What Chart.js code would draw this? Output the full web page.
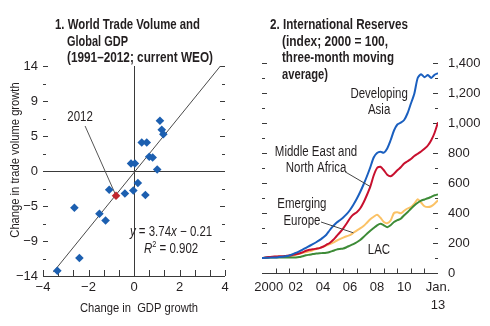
<!DOCTYPE html>
<html>
<head>
<meta charset="utf-8">
<script src="https://cdn.jsdelivr.net/npm/chart.js@4.4.1/dist/chart.umd.min.js"></script>
<style>
  html, body { margin: 0; padding: 0; background: #fff; }
  #wrap { position: relative; width: 490px; height: 326px; overflow: hidden;
          font-family: 'Liberation Sans', Arial, sans-serif; color: #231f20; }
  canvas { position: absolute; top: 0; }
  #c1 { left: 0; }
  #c2 { left: 245px; }
  .title { position: absolute; top: 16px; font-weight: bold; font-size: 15px; line-height: 16.7px;
           white-space: nowrap; z-index: 2; }
  .ln { width: max-content; transform-origin: left center; }
  .ind { margin-left: 12px; }
  #t1 { left: 55px; }
  #t2 { left: 270px; }
</style>
</head>
<body>
<div id="wrap">
  <div class="title" id="t1">
    <div class="ln" data-w="145">1. World Trade Volume and</div>
    <div class="ln ind" data-w="61">Global GDP</div>
    <div class="ln ind" data-w="146">(1991–2012; current WEO)</div>
  </div>
  <div class="title" id="t2">
    <div class="ln" data-w="138">2. International Reserves</div>
    <div class="ln ind" data-w="106">(index; 2000 = 100,</div>
    <div class="ln ind" data-w="112">three-month moving</div>
    <div class="ln ind" data-w="46">average)</div>
  </div>
  <canvas id="c1" width="245" height="326"></canvas>
  <canvas id="c2" width="245" height="326"></canvas>
</div>
<script>
// ---------- Panel 1: change in world trade volume growth vs change in GDP growth ----------
const GDP_CHANGE   = [1.14, 1.22, 1.29, 0.34, 0.56, 0.67, 0.82, -0.13, 0.04, 1.02,
                      0.17, -1.09, -0.40, -0.03, 0.50, -2.62, -1.52, -1.25, -2.40, -3.37];
const TRADE_CHANGE = [6.7, 5.5, 4.9, 3.8, 3.8, 1.9, 1.8, 1.0, 1.0, 0.2,
                      -1.6, -2.5, -3.0, -2.6, -3.2, -4.9, -5.7, -6.6, -11.6, -13.3];
const LATEST_GDP_CHANGE = [-0.79];   // 2012
const LATEST_TRADE_CHANGE = [-3.3];  // 2012
const FIT_SLOPE = 3.74;
const FIT_INTERCEPT = -0.21;
const FIT_R2 = '0.902';
const FIT_X_RANGE = [-3.55, 3.8];

const X1_TICKS  = [-4, -10/3, -8/3, -2, -4/3, -2/3, 0, 2/3, 4/3, 2, 8/3, 10/3, 4];
const X1_LABELS = ['−4', '', '', '−2', '', '', '0', '', '', '2', '', '', '4'];
const Y1_TICKS  = [-14, -35/3, -28/3, -7, -14/3, -7/3, 0, 7/3, 14/3, 7, 28/3, 35/3, 14];
const Y1_LABELS = ['−14', '', '−9', '', '−5', '', '0', '', '5', '', '9', '', '14'];

// ---------- Panel 2: international reserves, index 2000 = 100 ----------
const QUARTERS = [
  '2000Q1','2000Q2','2000Q3','2000Q4','2001Q1','2001Q2','2001Q3','2001Q4',
  '2002Q1','2002Q2','2002Q3','2002Q4','2003Q1','2003Q2','2003Q3','2003Q4',
  '2004Q1','2004Q2','2004Q3','2004Q4','2005Q1','2005Q2','2005Q3','2005Q4',
  '2006Q1','2006Q2','2006Q3','2006Q4','2007Q1','2007Q2','2007Q3','2007Q4',
  '2008Q1','2008Q2','2008Q3','2008Q4','2009Q1','2009Q2','2009Q3','2009Q4',
  '2010Q1','2010Q2','2010Q3','2010Q4','2011Q1','2011Q2','2011Q3','2011Q4',
  '2012Q1','2012Q2','2012Q3','2012Q4','2013Q1'
];
const DEVELOPING_ASIA = [
  100, 101, 102, 103, 104, 106, 108, 111,
  116, 125, 134, 144, 156, 168, 180, 192,
  205, 219, 236, 255, 285, 312, 335, 352,
  370, 392, 420, 455, 495, 540, 590, 645,
  705, 770, 800, 808, 802, 830, 885, 950,
  990, 1002, 1020, 1065, 1130, 1195, 1300, 1325,
  1305, 1320, 1300, 1322, 1332
];
const MIDDLE_EAST_NORTH_AFRICA = [
  100, 103, 107, 109, 110, 111, 112, 114,
  116, 120, 125, 130, 138, 148, 155, 158,
  162, 166, 175, 188, 200, 220, 245, 270,
  298, 330, 365, 390, 405, 430, 470, 520,
  576, 650, 700, 708, 685, 655, 645, 662,
  685, 705, 730, 745, 760, 780, 795, 810,
  828, 850, 885, 935, 1005
];
const EMERGING_EUROPE = [
  100, 102, 105, 107, 108, 108, 109, 110,
  112, 117, 122, 128, 134, 140, 145, 152,
  160, 167, 174, 184, 193, 203, 215, 226,
  236, 245, 252, 268, 283, 297, 313, 335,
  358, 375, 388, 368, 340, 332, 350, 400,
  405, 398, 415, 430, 440, 462, 492, 470,
  445, 440, 445, 462, 485
];
const LAC = [
  100, 101, 103, 104, 104, 104, 104, 104,
  104, 103, 103, 106, 112, 118, 122, 126,
  130, 132, 133, 135, 140, 148, 156, 160,
  163, 172, 183, 193, 205, 220, 240, 262,
  282, 300, 318, 328, 318, 305, 318, 340,
  352, 362, 385, 405, 428, 450, 468, 482,
  490, 498, 508, 518, 524
];
const YEAR_TICKS  = [2001, 2002, 2003, 2004, 2005, 2006, 2007, 2008, 2009, 2010, 2011, 2012];
const YEAR_LABEL_AT = [2000.5, 2002.5, 2004.5, 2006.5, 2008.5, 2010.5, 2013];
const YEAR_LABELS   = ['2000', '02', '04', '06', '08', '10', ['Jan.', '13']];
const Y2_TICKS  = [0, 100, 200, 300, 400, 500, 600, 700, 800, 900, 1000, 1100, 1200, 1300, 1400];
const Y2_LABELS = ['0', '', '200', '', '400', '', '600', '', '800', '', '1,000', '', '1,200', '', '1,400'];

// ---------- shared styling ----------
const FONT = "'Liberation Sans', Arial, sans-serif";
const INK = '#231f20';
const AXIS = '#3a3a3a';
const NARROW = 0.82;   // horizontal squeeze for condensed-looking annotation text
Chart.defaults.font.family = FONT;
Chart.defaults.font.size = 13;
Chart.defaults.color = INK;

// squeeze each title line to its set width, giving a condensed face
document.querySelectorAll('.ln').forEach(el => {
  const w = el.getBoundingClientRect().width;
  el.style.transform = `scaleX(${Number(el.dataset.w) / w})`;
});

const quarterToYear = q => Number(q.slice(0, 4)) + (Number(q.slice(5)) - 1) / 4;
const crisp = v => Math.round(v) + 0.5;

function seg(ctx, x1, y1, x2, y2) {
  ctx.beginPath();
  ctx.moveTo(x1, y1);
  ctx.lineTo(x2, y2);
  ctx.stroke();
}

// a line of text made of styled runs, centred on (cx, cy), optionally rotated
function drawRuns(ctx, runs, cx, cy, size, squeeze, rotation) {
  const fontOf = r => `${r.italic ? 'italic ' : ''}${r.sup ? Math.round(size * 0.65) : size}px ${FONT}`;
  let total = 0;
  runs.forEach(r => { ctx.font = fontOf(r); r.w = ctx.measureText(r.t).width; total += r.w; });
  ctx.save();
  ctx.translate(cx, cy);
  if (rotation) ctx.rotate(rotation);
  ctx.scale(squeeze, 1);
  ctx.textAlign = 'left';
  ctx.textBaseline = 'middle';
  let x = -total / 2;
  runs.forEach(r => {
    ctx.font = fontOf(r);
    ctx.fillText(r.t, x, r.sup ? -size * 0.3 : 0);
    x += r.w;
  });
  ctx.restore();
}

function drawLines(ctx, lines, cx, cy, gap, size) {
  lines.forEach((t, i) => drawRuns(ctx, [{ t }], cx, cy + i * gap, size, NARROW));
}

// ---------- panel 1 decorations ----------
const panelOneFrame = {
  id: 'panelOneFrame',
  beforeDatasetsDraw(chart) {
    const { ctx, scales: { x, y } } = chart;
    const L = x.getPixelForValue(-4), R = x.getPixelForValue(4);
    const T = y.getPixelForValue(14), B = y.getPixelForValue(-14);
    const x0 = crisp(x.getPixelForValue(0)), y0 = crisp(y.getPixelForValue(0));
    ctx.save();
    ctx.strokeStyle = AXIS;
    ctx.lineWidth = 1;
    seg(ctx, x0, T, x0, B);
    seg(ctx, L, y0, R, y0);
    seg(ctx, L, crisp(B), R, crisp(B));
    X1_TICKS.forEach(v => {
      const px = crisp(x.getPixelForValue(v));
      seg(ctx, px, B, px, B - 6);
    });
    Y1_TICKS.forEach((v, i) => {
      if (v === -14) return;
      const py = crisp(y.getPixelForValue(v));
      const len = Y1_LABELS[i] ? 5 : 3;
      seg(ctx, L, py, L + len, py);
      seg(ctx, R - len, py, R, py);
    });
    // leader from the "2012" label to the 2012 observation
    ctx.strokeStyle = '#555';
    seg(ctx, x.getPixelForValue(-2.15), y.getPixelForValue(6.0),
        x.getPixelForValue(LATEST_GDP_CHANGE[0]), y.getPixelForValue(LATEST_TRADE_CHANGE[0]));
    ctx.restore();
  },
  afterDatasetsDraw(chart) {
    const { ctx, chartArea, scales: { x, y } } = chart;
    ctx.save();
    ctx.fillStyle = INK;
    drawLines(ctx, ['2012'], x.getPixelForValue(-2.37), y.getPixelForValue(7.2), 0, 14);
    const slope = FIT_SLOPE.toFixed(2);
    const icpt = Math.abs(FIT_INTERCEPT).toFixed(2);
    drawRuns(ctx, [{ t: 'y', italic: true }, { t: ' = ' + slope }, { t: 'x', italic: true },
                   { t: (FIT_INTERCEPT < 0 ? ' − ' : ' + ') + icpt }],
             x.getPixelForValue(1.63), y.getPixelForValue(-8.1), 14, NARROW);
    drawRuns(ctx, [{ t: 'R', italic: true }, { t: '2', sup: true }, { t: ' = ' + FIT_R2 }],
             x.getPixelForValue(1.63), y.getPixelForValue(-10.4), 14, NARROW);
    // axis titles
    drawRuns(ctx, [{ t: 'Change in  GDP growth' }], (chartArea.left + chartArea.right) / 2 + 5,
             chartArea.bottom + 32, 13, 0.86);
    drawRuns(ctx, [{ t: 'Change in trade volume growth' }], 15,
             (chartArea.top + chartArea.bottom) / 2 - 11, 13, 0.86, -Math.PI / 2);
    ctx.restore();
  }
};

const scatterPoints = GDP_CHANGE.map((g, i) => ({ x: g, y: TRADE_CHANGE[i] }));
const latestPoint = LATEST_GDP_CHANGE.map((g, i) => ({ x: g, y: LATEST_TRADE_CHANGE[i] }));
const fitLine = FIT_X_RANGE.map(g => ({ x: g, y: FIT_SLOPE * g + FIT_INTERCEPT }));

new Chart(document.getElementById('c1'), {
  type: 'scatter',
  data: {
    datasets: [
      { label: 'Fitted line', type: 'line', data: fitLine, borderColor: '#4a4a4a', borderWidth: 1,
        pointRadius: 0, order: 3 },
      { label: '1991–2011', data: scatterPoints, pointStyle: 'rectRot', pointRadius: 4.3,
        backgroundColor: '#1c5fb0', borderWidth: 0, order: 2 },
      { label: '2012', data: latestPoint, pointStyle: 'rectRot', pointRadius: 4.3,
        backgroundColor: '#c1272d', borderWidth: 0, order: 1 }
    ]
  },
  options: {
    responsive: false,
    animation: false,
    events: [],
    layout: { padding: { top: 66, right: 20, left: 0, bottom: 0 } },
    plugins: { legend: { display: false }, tooltip: { enabled: false } },
    scales: {
      x: {
        type: 'linear', min: -4, max: 4,
        grid: { display: false, drawTicks: false }, border: { display: false },
        afterBuildTicks: s => { s.ticks = X1_TICKS.map(v => ({ value: v })); },
        ticks: { autoSkip: false, maxRotation: 0, padding: 4, callback: (v, i) => X1_LABELS[i] },
        afterFit: s => { s.height = 50; }
      },
      y: {
        type: 'linear', min: -14, max: 14,
        grid: { display: false, drawTicks: false }, border: { display: false },
        afterBuildTicks: s => { s.ticks = Y1_TICKS.map(v => ({ value: v })); },
        ticks: { autoSkip: false, padding: 5, callback: (v, i) => Y1_LABELS[i] },
        afterFit: s => { s.width = 43; }
      }
    }
  },
  plugins: [panelOneFrame]
});

// ---------- panel 2 decorations ----------
const panelTwoFrame = {
  id: 'panelTwoFrame',
  beforeDatasetsDraw(chart) {
    const { ctx, scales: { x, y } } = chart;
    const L = x.getPixelForValue(2000), R = x.getPixelForValue(2013);
    const B = crisp(y.getPixelForValue(0));
    ctx.save();
    ctx.strokeStyle = AXIS;
    ctx.lineWidth = 1;
    seg(ctx, L, B, R, B);
    YEAR_TICKS.forEach(v => {
      const px = crisp(x.getPixelForValue(v));
      seg(ctx, px, B, px, B - 5);
    });
    Y2_TICKS.forEach((v, i) => {
      if (v === 0) return;
      const py = crisp(y.getPixelForValue(v));
      const len = Y2_LABELS[i] ? 5 : 3;
      seg(ctx, L, py, L + len, py);
      seg(ctx, R - len, py, R, py);
    });
    ctx.restore();
  },
  afterDatasetsDraw(chart) {
    const { ctx, scales: { x, y } } = chart;
    const at = (q, series) => ({ px: x.getPixelForValue(quarterToYear(q)),
                                 py: y.getPixelForValue(series[QUARTERS.indexOf(q)]) });
    ctx.save();
    ctx.strokeStyle = '#444';
    ctx.lineWidth = 1;
    const mena = at('2008Q1', MIDDLE_EAST_NORTH_AFRICA);
    seg(ctx, x.getPixelForValue(2006.13), y.getPixelForValue(675), mena.px, mena.py);
    const eur = at('2006Q4', EMERGING_EUROPE);
    seg(ctx, x.getPixelForValue(2004.36), y.getPixelForValue(340), eur.px, eur.py);
    ctx.fillStyle = INK;
    drawLines(ctx, ['Developing', 'Asia'], x.getPixelForValue(2008.65), y.getPixelForValue(1193), 16, 14);
    drawLines(ctx, ['Middle East and', 'North Africa'], x.getPixelForValue(2003.99), y.getPixelForValue(807), 16, 14);
    drawLines(ctx, ['Emerging', 'Europe'], x.getPixelForValue(2002.95), y.getPixelForValue(460), 17, 14);
    drawLines(ctx, ['LAC'], x.getPixelForValue(2008.64), y.getPixelForValue(153), 0, 14);
    ctx.restore();
  }
};

const years = QUARTERS.map(quarterToYear);
const toPoints = series => series.map((v, i) => ({ x: years[i], y: v }));
const lineStyle = colour => ({ borderColor: colour, backgroundColor: colour, borderWidth: 2,
                               pointRadius: 0, tension: 0.25, fill: false });

new Chart(document.getElementById('c2'), {
  type: 'line',
  data: {
    datasets: [
      { label: 'Developing Asia', data: toPoints(DEVELOPING_ASIA), ...lineStyle('#1a5fbf') },
      { label: 'Middle East and North Africa', data: toPoints(MIDDLE_EAST_NORTH_AFRICA), ...lineStyle('#c8102e') },
      { label: 'LAC', data: toPoints(LAC), ...lineStyle('#3d8b37') },
      { label: 'Emerging Europe', data: toPoints(EMERGING_EUROPE), ...lineStyle('#fbc266') }
    ]
  },
  options: {
    responsive: false,
    animation: false,
    events: [],
    layout: { padding: { top: 63, right: 0, left: 17, bottom: 0 } },
    plugins: { legend: { display: false }, tooltip: { enabled: false } },
    scales: {
      x: {
        type: 'linear', min: 2000, max: 2013,
        grid: { display: false, drawTicks: false }, border: { display: false },
        afterBuildTicks: s => { s.ticks = YEAR_LABEL_AT.map(v => ({ value: v })); },
        ticks: { autoSkip: false, maxRotation: 0, padding: 6, font: { lineHeight: 1.35 },
                 callback: (v, i) => YEAR_LABELS[i] },
        afterFit: s => { s.height = 53; }
      },
      y: {
        type: 'linear', position: 'right', min: 0, max: 1400,
        grid: { display: false, drawTicks: false }, border: { display: false },
        afterBuildTicks: s => { s.ticks = Y2_TICKS.map(v => ({ value: v })); },
        ticks: { autoSkip: false, padding: 10, callback: (v, i) => Y2_LABELS[i] },
        afterFit: s => { s.width = 52; }
      }
    }
  },
  plugins: [panelTwoFrame]
});
</script>
</body>
</html>
